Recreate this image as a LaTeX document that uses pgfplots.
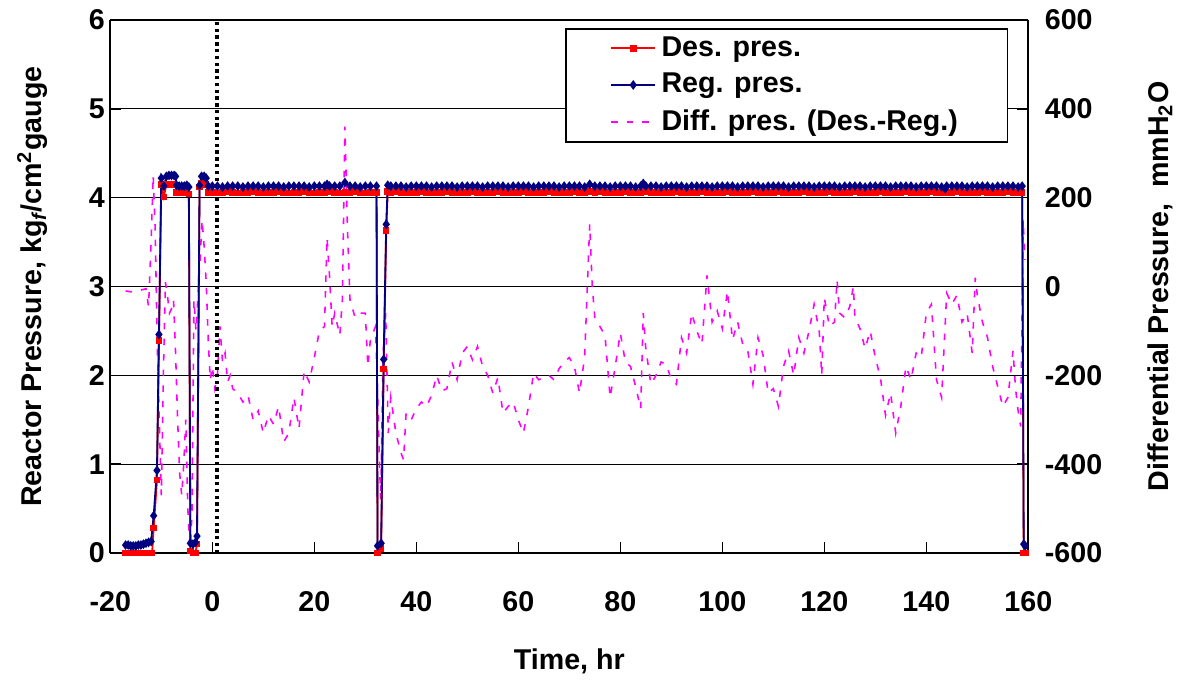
\documentclass[border=0pt]{standalone}
\usepackage{fontspec}
\setmainfont{Liberation Sans}
\usepackage{pgfplots}
\pgfplotsset{compat=1.18}
\definecolor{desred}{RGB}{255,0,0}
\definecolor{regblue}{RGB}{0,0,128}
\definecolor{diffpink}{RGB}{255,0,255}
\pgfplotsset{
  common/.style={
    scale only axis, width=12.4cm, height=7.2cm,
    xmin=-20, xmax=160,
    /pgf/number format/assume math mode=true,
    tick label style={font=\fontsize{11}{13}\selectfont\bfseries},
    label style={font=\fontsize{11}{13}\selectfont\bfseries},
    axis line style={line width=0.8pt},
    tick style={black, line width=0.6pt},
  },
}
\begin{document}
\begin{tikzpicture}
% right axis: differential pressure (drawn first, lies under the pressure lines)
\begin{axis}[common, name=diffax,
  ymin=-600, ymax=600,
  axis y line*=right, axis x line=none,
  ytick={-600,-400,...,600},
  yticklabel style={xshift=0.1cm},
  ymajorgrids, grid style={black, line width=0.5pt},
  ylabel={Differential Pressure,\ \ mmH\textsubscript{2}O},
  ylabel style={at={(axis description cs:1.1435,0.5)}, anchor=center},
]
\addplot[diffpink, line width=0.6pt, dash pattern=on 2.5pt off 3.5pt] coordinates {
(-17,-10) (-16,-12) (-15,-10) (-14,-8) (-13,-5) (-12.5,-45) (-12,100) (-11.6,250)
(-11.2,130) (-10.8,-130) (-10.4,-300) (-10,-470) (-9.6,-200) (-9.2,10) (-8.8,-20)
(-8.4,-60) (-8,-50) (-7.6,-30) (-7.2,-150) (-6.8,-300) (-6.4,-420) (-6,-470)
(-5.6,-400) (-5.2,-300) (-4.8,-500) (-4.4,-590) (-4,-520) (-3.6,-30) (-3.2,-100)
(-2.8,-20) (-2.4,60) (-2,150) (-1.6,90) (-1.2,10) (-0.8,-120) (-0.4,-210)
(0,-180) (0.5,-230) (1,-200) (1.5,-90) (2,-170) (2.5,-150) (3,-215) (3.5,-200)
(4,-230) (5,-240) (6,-260) (7,-245) (8,-300) (9,-280) (10,-330) (11,-290)
(12,-310) (13,-270) (14,-350) (15,-330) (16,-250) (17,-320) (18,-190) (19,-215)
(20,-160) (21,-100) (22,-90) (22.5,110) (23,20) (23.5,-90) (24,-60) (25,-110)
(25.5,-30) (26,360) (26.5,130) (27,-30) (28,-70) (29,-60) (30,-60) (30.5,-180)
(31,-120) (32,-90) (32.5,-280) (33,-480) (33.5,-150) (34,-60) (34.5,-330)
(35,-250) (36,-330) (37,-375) (37.5,-390) (38,-285) (39,-300) (40,-275) (41,-260)
(42,-270) (43,-245) (44,-200) (45,-235) (46,-230) (47,-170) (48,-210) (49,-150)
(50,-135) (51,-165) (52,-135) (53,-180) (54,-200) (55,-240) (56,-205) (57,-285)
(58,-270) (59,-260) (60,-300) (61,-330) (62,-270) (63,-195) (64,-210) (65,-205)
(66,-200) (67,-210) (68,-185) (69,-170) (70,-160) (71,-180) (72,-240) (73,-160)
(74,140) (74.5,0) (75,-70) (76,-90) (77,-110) (78,-250) (79,-180) (80,-105)
(81,-170) (82,-180) (83,-225) (84,-275) (84.5,-60) (85,-140) (86,-220) (87,-200)
(88,-170) (89,-175) (90,-210) (91,-220) (92,-115) (93,-150) (94,-60) (95,-100)
(96,-130) (97,25) (98,-80) (99,-55) (100,-95) (101,-10) (102,-120) (103,-80)
(104,-130) (105,-145) (106,-220) (107,-115) (108,-155) (109,-240) (110,-230)
(111,-270) (112,-180) (113,-145) (114,-200) (115,-115) (116,-150) (117,-100)
(118,-40) (119,-100) (119.5,-200) (120,-25) (121,-90) (122,-80) (122.5,15)
(123,-60) (124,-70) (125,-45) (125.7,0) (126,-70) (127,-95) (128,-140) (129,-100)
(130,-160) (131,-205) (132,-290) (133,-240) (134,-330) (135,-270) (136,-180)
(137,-210) (138,-150) (139,-160) (140,-60) (141,-40) (142,-210) (143,-250)
(144,-15) (145,-40) (146,-20) (147,-80) (148,-60) (149,-150) (149.6,20) (150,-20)
(151,-80) (152,-115) (153,-180) (154,-225) (155,-270) (156,-250) (157,-145)
(157.5,-230) (158,-280) (158.5,-315) (159,150) (159.3,60)
};
\end{axis}
% left axis: reactor pressure
\begin{axis}[common,
  ymin=0, ymax=6,
  xtick={-20,0,...,160}, ytick={0,1,...,6},
  axis y line*=left,
  xtick pos=bottom, ytick pos=left, tick align=inside,
  xticklabel style={yshift=-0.4cm},
  yticklabel style={xshift=0.05cm},
  xlabel={Time, hr},
  ylabel={Reactor Pressure, kg\textsubscript{\itshape f}/cm\textsuperscript{2}gauge},
  xlabel style={at={(axis description cs:0.5,-0.204)}, anchor=center},
  ylabel style={at={(axis description cs:-0.085,0.5)}, anchor=center},
  legend style={at={(0.978,0.985)}, anchor=north east, draw=black, line width=0.6pt,
    font=\fontsize{11}{13}\selectfont\bfseries, inner xsep=17pt, inner ysep=1pt,
    row sep=1pt},
  legend cell align=left,
]
\addplot[desred, line width=0.7pt, mark=square*, mark size=0.9pt] coordinates {
(-17,0) (-16.5,0) (-16,0) (-15.5,0) (-15,0) (-14.5,0) (-14,0) (-13.5,0) (-13,0)
(-12.5,0) (-12,0) (-11.8,0) (-11.5,0.28) (-10.85,0.82) (-10.46,2.39) (-10,4.15)
(-9.5,4.01) (-9,4.15) (-8.5,4.15) (-8,4.15) (-7.5,4.15) (-7.2,4.14) (-7,4.06)
(-6.5,4.06) (-6,4.06) (-5.5,4.06) (-5,4.06) (-4.6,4.04) (-4.3,0.02) (-3.8,0)
(-3.3,0) (-3,0.1) (-2.5,4.12) (-2.1,4.16) (-1.6,4.16) (-1.2,4.15) (-0.8,4.06)
(0,4.06) (1,4.05) (2,4.06) (3,4.07) (4,4.06) (5,4.05) (6,4.06) (7,4.06) (8,4.07)
(9,4.06) (10,4.05) (11,4.06) (12,4.06) (13,4.07) (14,4.06) (15,4.05) (16,4.06)
(17,4.06) (18,4.07) (19,4.06) (20,4.05) (21,4.06) (22,4.06) (23,4.07) (24,4.06)
(25,4.05) (26,4.06) (27,4.06) (28,4.07) (29,4.06) (30,4.05) (31,4.06) (32.2,4.06)
(32.4,0) (33.1,0.05) (33.6,2.07) (34.1,3.63) (34.4,4.07)
(35,4.06) (36,4.07) (37,4.06) (38,4.05) (39,4.06) (40,4.06) (41,4.07) (42,4.06)
(43,4.05) (44,4.06) (45,4.06) (46,4.07) (47,4.06) (48,4.05) (49,4.06) (50,4.06)
(51,4.07) (52,4.06) (53,4.05) (54,4.06) (55,4.06) (56,4.07) (57,4.06) (58,4.05)
(59,4.06) (60,4.06) (61,4.07) (62,4.06) (63,4.05) (64,4.06) (65,4.06) (66,4.07)
(67,4.06) (68,4.05) (69,4.06) (70,4.06) (71,4.07) (72,4.06) (73,4.05) (74,4.07)
(75,4.06) (76,4.07) (77,4.06) (78,4.05) (79,4.06) (80,4.06) (81,4.07) (82,4.06)
(83,4.05) (84,4.06) (85,4.07) (86,4.06) (87,4.06) (88,4.05) (89,4.06) (90,4.06)
(91,4.07) (92,4.06) (93,4.05) (94,4.06) (95,4.06) (96,4.07) (97,4.06) (98,4.05)
(99,4.06) (100,4.06) (101,4.07) (102,4.06) (103,4.05) (104,4.06) (105,4.06)
(106,4.07) (107,4.06) (108,4.05) (109,4.06) (110,4.06) (111,4.07) (112,4.06)
(113,4.05) (114,4.06) (115,4.06) (116,4.07) (117,4.06) (118,4.05) (119,4.06)
(120,4.06) (121,4.07) (122,4.06) (123,4.05) (124,4.06) (125,4.06) (126,4.07)
(127,4.06) (128,4.05) (129,4.06) (130,4.06) (131,4.07) (132,4.06) (133,4.05)
(134,4.06) (135,4.06) (136,4.07) (137,4.06) (138,4.05) (139,4.06) (140,4.06)
(141,4.07) (142,4.06) (143,4.05) (144,4.06) (145,4.06) (146,4.07) (147,4.06)
(148,4.05) (149,4.06) (150,4.06) (151,4.07) (152,4.06) (153,4.05) (154,4.06)
(155,4.06) (156,4.07) (157,4.06) (158,4.05) (158.8,4.06) (159.1,0) (159.4,0)
};
\addlegendentry{Des. pres.}
\addplot[regblue, line width=0.7pt, mark=diamond*, mark size=1.3pt] coordinates {
(-17,0.09) (-16.5,0.09) (-16,0.08) (-15.5,0.08) (-15,0.08) (-14.5,0.09) (-14,0.09)
(-13.5,0.1) (-13,0.11) (-12.5,0.12) (-12,0.13) (-11.5,0.42) (-10.85,0.93)
(-10.46,2.46) (-10,4.22) (-9.5,4.13) (-9,4.24) (-8.5,4.25) (-8,4.25) (-7.5,4.25)
(-7.2,4.24) (-7,4.14) (-6.5,4.13) (-6,4.13) (-5.5,4.13) (-5,4.14) (-4.6,4.12)
(-4.3,0.11) (-3.8,0.1) (-3.3,0.12) (-3,0.19) (-2.5,4.14) (-2.1,4.24) (-1.6,4.24)
(-1.2,4.22) (-0.8,4.13)
(0,4.13) (1,4.13) (2,4.12) (3,4.13) (4,4.13) (5,4.13) (6,4.12) (7,4.13) (8,4.13)
(9,4.13) (10,4.12) (11,4.13) (12,4.13) (13,4.13) (14,4.12) (15,4.13) (16,4.13)
(17,4.13) (18,4.13) (19,4.12) (20,4.13) (21,4.13) (22,4.13) (22.5,4.15) (23,4.13)
(24,4.13) (25,4.13) (26,4.17) (27,4.13) (28,4.13) (29,4.12) (30,4.13) (31,4.13)
(32.2,4.13) (32.4,0.08) (33.1,0.11) (33.6,2.18) (34.1,3.7) (34.4,4.14)
(35,4.13) (36,4.13) (37,4.13) (38,4.12) (39,4.13) (40,4.13) (41,4.13) (42,4.13)
(43,4.12) (44,4.13) (45,4.13) (46,4.13) (47,4.13) (48,4.12) (49,4.13) (50,4.13)
(51,4.13) (52,4.13) (53,4.12) (54,4.13) (55,4.13) (56,4.13) (57,4.13) (58,4.12)
(59,4.13) (60,4.13) (61,4.13) (62,4.13) (63,4.12) (64,4.13) (65,4.13) (66,4.13)
(67,4.13) (68,4.12) (69,4.13) (70,4.13) (71,4.13) (72,4.13) (73,4.12) (74,4.15)
(75,4.13) (76,4.13) (77,4.13) (78,4.12) (79,4.13) (80,4.13) (81,4.13) (82,4.13)
(83,4.12) (84,4.13) (84.5,4.16) (85,4.13) (86,4.13) (87,4.13) (88,4.12) (89,4.13)
(90,4.13) (91,4.13) (92,4.13) (93,4.12) (94,4.13) (95,4.13) (96,4.13) (97,4.13)
(98,4.12) (99,4.13) (100,4.13) (101,4.13) (102,4.13) (103,4.12) (104,4.13)
(105,4.13) (106,4.13) (107,4.13) (108,4.12) (109,4.13) (110,4.13) (111,4.13)
(112,4.13) (113,4.12) (114,4.13) (115,4.13) (116,4.13) (117,4.13) (118,4.12)
(119,4.13) (120,4.13) (121,4.13) (122,4.13) (123,4.12) (124,4.13) (125,4.13)
(126,4.13) (127,4.13) (128,4.12) (129,4.13) (130,4.13) (131,4.13) (132,4.13)
(133,4.12) (134,4.13) (135,4.13) (136,4.13) (137,4.13) (138,4.12) (139,4.13)
(140,4.13) (141,4.13) (142,4.13) (143,4.12) (143.7,4.10) (144,4.13) (145,4.13)
(146,4.13) (147,4.13) (148,4.12) (149,4.13) (150,4.13) (151,4.13) (152,4.13)
(153,4.12) (154,4.13) (155,4.13) (156,4.13) (157,4.13) (158,4.12) (158.8,4.13)
(159.1,0.1) (159.4,0.08)
};
\addlegendentry{Reg. pres.}
\addlegendimage{diffpink, line width=0.6pt, dash pattern=on 2.5pt off 3.5pt}
\addlegendentry{Diff. pres. (Des.-Reg.)}
\addplot[black, line width=1.6pt, dash pattern=on 1.3pt off 1.3pt, forget plot]
  coordinates {(1,0) (1,6)};
\end{axis}
\pgfresetboundingbox
\path[use as bounding box] ([shift={(-1.49cm,-1.77cm)}]diffax.south west)
  rectangle ([shift={(2.13cm,0.27cm)}]diffax.north east);
\end{tikzpicture}
\end{document}
